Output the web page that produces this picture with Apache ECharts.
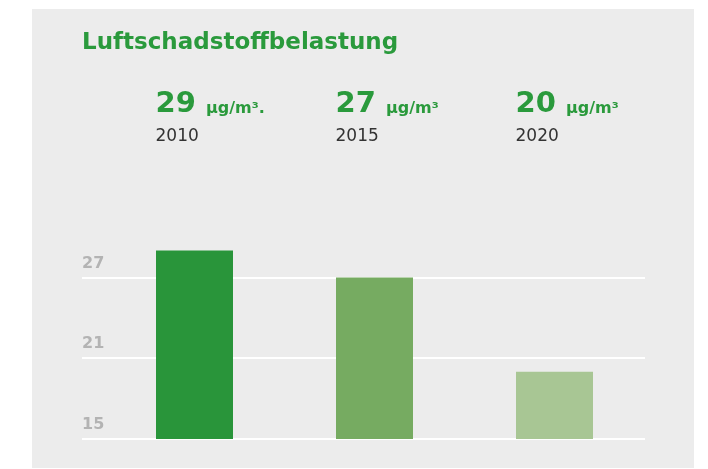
<!DOCTYPE html>
<html>
<head>
<meta charset="utf-8">
<script src="https://cdn.jsdelivr.net/npm/echarts@6/dist/echarts.min.js"></script>
<style>
  html, body { margin: 0; padding: 0; background: #ffffff; width: 708px; height: 469px; overflow: hidden; }
  #chart { position: absolute; left: 32px; top: 9px; width: 662px; height: 459px; background: #ececec; }
</style>
</head>
<body>
<div id="chart"></div>
<script>
// ---- data ----
var chartTitle = 'Luftschadstoffbelastung';
var years = ['2010', '2015', '2020'];
var values = [29, 27, 20];
var units = ['µg/m³.', 'µg/m³', 'µg/m³'];
var barColors = ['#29953a', '#76ab61', '#a8c694'];
var yTickLabels = [15, 21, 27];
var yMin = 15, yMax = 30, yStep = 3;

var green = '#2a9a3c';
var font = 'DejaVu Sans';

var chart = echarts.init(document.getElementById('chart'), null, { renderer: 'canvas' });

var option = {
  backgroundColor: 'transparent',
  animation: false,
  title: {
    text: chartTitle,
    left: 50,
    top: 20,
    padding: 0,
    textStyle: { color: green, fontFamily: font, fontWeight: 'bold', fontSize: 23, lineHeight: 28 }
  },
  grid: [
    { left: 50, right: 49, top: 228, bottom: 29 },     // axis / gridlines
    { left: 72.5, right: 49.5, top: 228, bottom: 29 }, // bars
    { left: 33.5, right: 88.5, top: 132, height: 10 }  // header labels
  ],
  xAxis: [
    { gridIndex: 0, type: 'category', data: years, show: false },
    { gridIndex: 1, type: 'category', data: years, show: false },
    {
      gridIndex: 2, type: 'category', data: years, position: 'top',
      axisLine: { show: false }, axisTick: { show: false }, splitLine: { show: false },
      axisLabel: {
        interval: 0, margin: 0, align: 'left', verticalAlign: 'bottom',
        formatter: function (v, i) {
          return '{big|' + values[i] + ' }{unit|' + units[i] + '}\n{year|' + v + '}';
        },
        rich: {
          big: { fontFamily: font, fontWeight: 'bold', fontSize: 29, color: green, lineHeight: 32, verticalAlign: 'bottom' },
          unit: { fontFamily: font, fontWeight: 'bold', fontSize: 16, color: green, lineHeight: 32, verticalAlign: 'bottom', padding: [0, 0, 2, 0] },
          year: { fontFamily: font, fontSize: 17, color: '#333333', lineHeight: 22, padding: [14, 0, 0, 0] }
        }
      }
    }
  ],
  yAxis: [
    {
      gridIndex: 0, type: 'value', min: yMin, max: yMax, interval: yStep,
      axisLine: { show: false }, axisTick: { show: false },
      splitLine: { show: true, lineStyle: { color: ['#ffffff', 'rgba(0,0,0,0)'], width: 2 } },
      axisLabel: {
        inside: true, margin: 0, align: 'left', verticalAlign: 'bottom',
        padding: [0, 0, 5, 0],
        fontFamily: font, fontWeight: 'bold', fontSize: 16, color: '#b3b3b3', lineHeight: 18,
        formatter: function (v) { return yTickLabels.indexOf(v) >= 0 ? String(v) : ''; }
      }
    },
    { gridIndex: 1, type: 'value', min: yMin, max: yMax, interval: yStep, show: false, splitLine: { show: false } },
    { gridIndex: 2, type: 'value', min: 0, max: 1, show: false, splitLine: { show: false } }
  ],
  series: [
    {
      type: 'bar', xAxisIndex: 1, yAxisIndex: 1, barWidth: 77,
      data: values.map(function (v, i) { return { value: v, itemStyle: { color: barColors[i] } }; })
    }
  ]
};
chart.setOption(option);
</script>
</body>
</html>
